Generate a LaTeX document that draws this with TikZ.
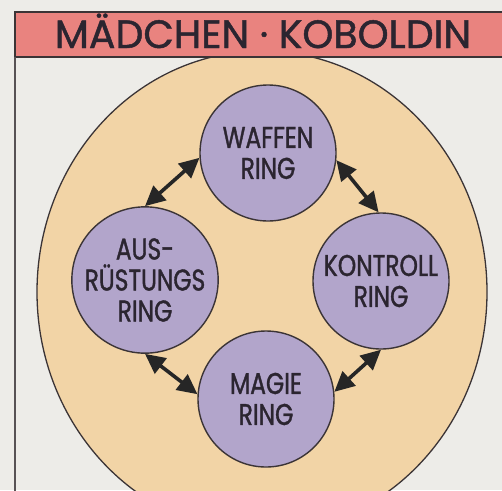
\documentclass[tikz,border=0pt]{standalone}
\usepackage{fontspec}
\usepackage{tikz}
\usetikzlibrary{arrows.meta}
\newfontfamily\titlefont[FakeBold=1.2]{Poppins}
\newfontfamily\ringfont[FakeStretch=0.78, FakeBold=1.2]{Poppins}
\definecolor{paper}{HTML}{EDECE8}
\definecolor{peach}{HTML}{F2D4A6}
\definecolor{lavender}{HTML}{B2A5CB}
\definecolor{salmon}{HTML}{E9837F}
\definecolor{ink}{HTML}{3B3436}
\definecolor{letters}{HTML}{2B2530}

\begin{document}
\begin{tikzpicture}[x=1pt, y=-1pt,
  ring/.style={circle, draw=ink, line width=1.4pt, fill=lavender,
    minimum size=136pt, inner sep=0pt, align=center, text=letters,
    font=\ringfont\fontsize{30}{31}\selectfont},
  ringarrow/.style={draw=black!85, line width=3.6pt,
    {Triangle[length=20pt,width=19pt]}-{Triangle[length=20pt,width=19pt]}}]
  % --- background and frame ---
  \useasboundingbox (0,0) rectangle (502,490);
  \fill[paper] (0,0) rectangle (502,490);
  \begin{scope}
    \clip (0,0) rectangle (502,490);
    \filldraw[fill=peach, draw=ink, line width=1.3pt] (262,292) ellipse [x radius=225, y radius=241];
    % --- header ---
    \filldraw[fill=salmon, draw=ink, line width=1.4pt] (15,12) rectangle (510,57);
    \draw[ink!85, line width=1.4pt] (15,57) -- (15,495);
  \end{scope}
  \node[text=letters, font=\titlefont\fontsize{39.5}{42}\selectfont, anchor=base] (title) at (263,48) {MÄDCHEN · KOBOLDIN};

  % --- the four rings ---
  \node[ring] (waffen)  at (268,153) {WAFFEN\\RING};
  \node[ring] (ruestung) at (145,280) {AUS-\\RÜSTUNGS\\RING};
  \node[ring] (kontroll) at (381,281) {KONTROLL\\RING};
  \node[ring] (magie)   at (266,399) {MAGIE\\RING};

  % --- arrows round the ring ---
  \draw[ringarrow] (ruestung.90) -- (waffen.184);
  \draw[ringarrow] (waffen.-6) -- (kontroll.92);
  \draw[ringarrow] (ruestung.-90) -- (magie.176);
  \draw[ringarrow] (magie.6) -- (kontroll.-90);
\end{tikzpicture}
\end{document}
